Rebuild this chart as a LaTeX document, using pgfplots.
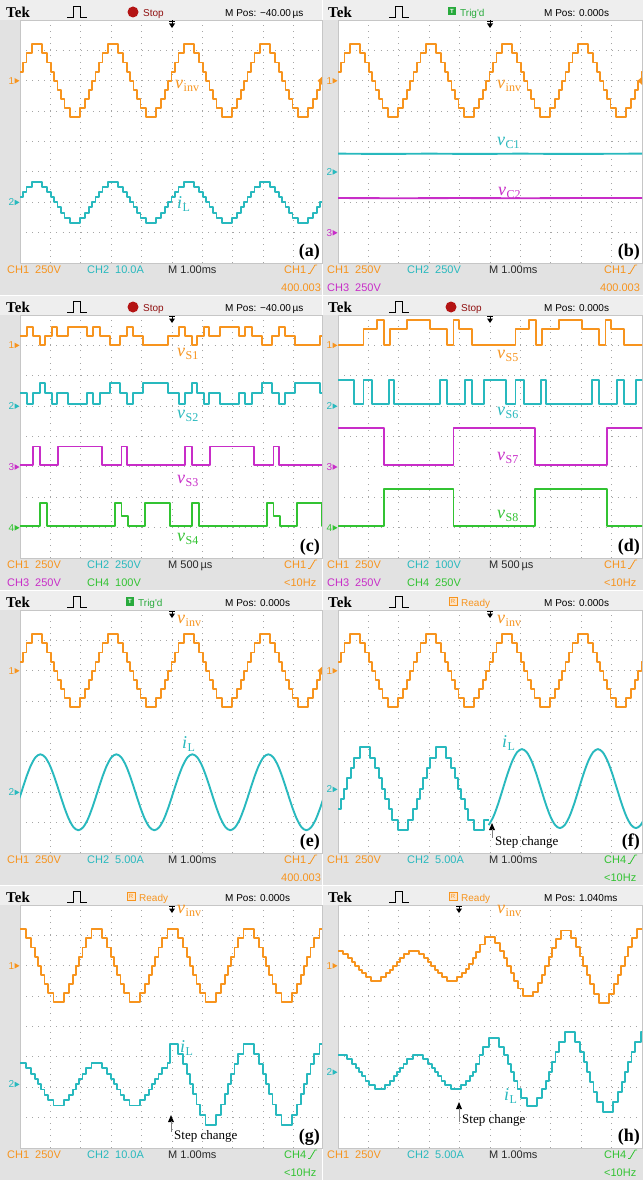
\documentclass[border=0pt]{standalone}
\usepackage{pgfplots}
\pgfplotsset{compat=1.18}
\usepackage{pgfplotstable}
\usepackage{fontspec}
\setmainfont{Liberation Serif}
\newfontfamily\sansf{Liberation Sans}
\definecolor{cho}{RGB}{247,148,30}
\definecolor{chc}{RGB}{40,185,190}
\definecolor{chm}{RGB}{200,45,200}
\definecolor{chg}{RGB}{50,195,50}
\definecolor{bgb}{RGB}{226,226,226}
\definecolor{bgt}{RGB}{238,238,238}
\definecolor{gridc}{RGB}{165,165,165}
\definecolor{txtc}{RGB}{40,40,40}
\definecolor{stopred}{RGB}{180,20,20}
\definecolor{trigg}{RGB}{40,170,60}
\newcommand{\btf}{\sansf\fontsize{11}{11}\selectfont}
\newcommand{\stf}{\sansf\fontsize{10}{10}\selectfont}

\pgfplotsset{
 osc/.style={scale only axis, width=304pt, height=243pt, xmin=0, xmax=10, ymin=-4, ymax=4,
  xtick={0,...,10}, ytick={-4,...,4}, xticklabels={}, yticklabels={}, major tick length=0pt,
  tick style={draw=none}, grid=major,
  major grid style={gridc, line width=0.8pt, dash pattern=on 0.8pt off 5.28pt},
  axis line style={gray!45, line width=0.6pt}, axis background/.style={fill=white},
  anchor=north west},
 oscL/.style={osc, width=302pt, xmax=9.934},
 tr/.style={line width=1.9pt, line join=round}}

% ---------- data (x in divisions, y in divisions) ----------
\pgfplotstableread{
t v i
-0.100 2.0 -2.00
-0.018 2.3 -1.83
0.090 2.6 -1.66
0.213 2.9 -1.49
0.388 3.2 -1.32
0.722 2.9 -1.49
0.897 2.6 -1.66
1.020 2.3 -1.83
1.128 2.0 -2.00
1.232 1.7 -2.17
1.340 1.4 -2.34
1.463 1.1 -2.51
1.638 0.8 -2.68
1.972 1.1 -2.51
2.147 1.4 -2.34
2.270 1.7 -2.17
2.378 2.0 -2.00
2.482 2.3 -1.83
2.590 2.6 -1.66
2.713 2.9 -1.49
2.888 3.2 -1.32
3.222 2.9 -1.49
3.397 2.6 -1.66
3.520 2.3 -1.83
3.628 2.0 -2.00
3.732 1.7 -2.17
3.840 1.4 -2.34
3.963 1.1 -2.51
4.138 0.8 -2.68
4.472 1.1 -2.51
4.647 1.4 -2.34
4.770 1.7 -2.17
4.878 2.0 -2.00
4.982 2.3 -1.83
5.090 2.6 -1.66
5.213 2.9 -1.49
5.388 3.2 -1.32
5.722 2.9 -1.49
5.897 2.6 -1.66
6.020 2.3 -1.83
6.128 2.0 -2.00
6.232 1.7 -2.17
6.340 1.4 -2.34
6.463 1.1 -2.51
6.638 0.8 -2.68
6.972 1.1 -2.51
7.147 1.4 -2.34
7.270 1.7 -2.17
7.378 2.0 -2.00
7.482 2.3 -1.83
7.590 2.6 -1.66
7.713 2.9 -1.49
7.888 3.2 -1.32
8.222 2.9 -1.49
8.397 2.6 -1.66
8.520 2.3 -1.83
8.628 2.0 -2.00
8.732 1.7 -2.17
8.840 1.4 -2.34
8.963 1.1 -2.51
9.138 0.8 -2.68
9.472 1.1 -2.51
9.647 1.4 -2.34
9.770 1.7 -2.17
9.878 2.0 -2.00
9.982 2.3 -1.83
10.090 2.6 -1.66
10.200 2.6 -1.66
}\tabA

\pgfplotstableread{
t y
-0.111 -2.478
0.045 -2.000
0.201 -1.522
0.358 -1.116
0.514 -0.845
0.670 -0.750
0.826 -0.845
0.983 -1.116
1.139 -1.522
1.295 -2.000
1.451 -2.478
1.608 -2.884
1.764 -3.155
1.920 -3.250
2.076 -3.155
2.233 -2.884
2.389 -2.478
2.545 -2.000
2.701 -1.522
2.858 -1.116
3.014 -0.845
3.170 -0.750
3.326 -0.845
3.483 -1.116
3.639 -1.522
3.795 -2.000
3.951 -2.478
4.108 -2.884
4.264 -3.155
4.420 -3.250
4.576 -3.155
4.733 -2.884
4.889 -2.478
5.045 -2.000
5.201 -1.522
5.358 -1.116
5.514 -0.845
5.670 -0.750
5.826 -0.845
5.983 -1.116
6.139 -1.522
6.295 -2.000
6.451 -2.478
6.608 -2.884
6.764 -3.155
6.920 -3.250
7.076 -3.155
7.233 -2.884
7.389 -2.478
7.545 -2.000
7.701 -1.522
7.858 -1.116
8.014 -0.845
8.170 -0.750
8.326 -0.845
8.483 -1.116
8.639 -1.522
8.795 -2.000
8.951 -2.478
9.108 -2.884
9.264 -3.155
9.420 -3.250
9.576 -3.155
9.733 -2.884
9.889 -2.478
10.045 -2.000
}\tabEsine

\pgfplotstableread{
t y
-0.300 -3.24
-0.203 -2.90
-0.028 -2.56
0.095 -2.22
0.203 -1.88
0.307 -1.54
0.415 -1.20
0.538 -0.86
0.713 -0.52
1.047 -0.86
1.222 -1.20
1.345 -1.54
1.453 -1.88
1.557 -2.22
1.665 -2.56
1.788 -2.90
1.963 -3.24
2.297 -2.90
2.472 -2.56
2.595 -2.22
2.703 -1.88
2.807 -1.54
2.915 -1.20
3.038 -0.86
3.213 -0.52
3.547 -0.86
3.722 -1.20
3.845 -1.54
3.953 -1.88
4.057 -2.22
4.165 -2.56
4.288 -2.90
4.463 -3.24
4.797 -2.90
4.956 -2.90
}\tabFstair

\pgfplotstableread{
t y
4.956 -3.081
5.113 -2.799
5.269 -2.378
5.425 -1.880
5.581 -1.382
5.738 -0.961
5.894 -0.679
6.050 -0.580
6.206 -0.679
6.363 -0.961
6.519 -1.382
6.675 -1.880
6.831 -2.378
6.988 -2.799
7.144 -3.081
7.300 -3.180
7.456 -3.081
7.613 -2.799
7.769 -2.378
7.925 -1.880
8.081 -1.382
8.238 -0.961
8.394 -0.679
8.550 -0.580
8.706 -0.679
8.863 -0.961
9.019 -1.382
9.175 -1.880
9.331 -2.378
9.488 -2.799
9.644 -3.081
9.800 -3.180
9.956 -3.081
10.113 -2.799
}\tabFsine

\pgfplotstableread{
t v i
-0.200 2.9 -1.375
-0.147 3.2 -1.200
0.187 2.9 -1.375
0.362 2.6 -1.550
0.485 2.3 -1.725
0.593 2.0 -1.900
0.697 1.7 -2.075
0.805 1.4 -2.250
0.928 1.1 -2.425
1.103 0.8 -2.600
1.437 1.1 -2.425
1.612 1.4 -2.250
1.735 1.7 -2.075
1.843 2.0 -1.900
1.947 2.3 -1.725
2.055 2.6 -1.550
2.178 2.9 -1.375
2.353 3.2 -1.200
2.687 2.9 -1.375
2.862 2.6 -1.550
2.985 2.3 -1.725
3.093 2.0 -1.900
3.197 1.7 -2.075
3.305 1.4 -2.250
3.428 1.1 -2.425
3.603 0.8 -2.600
3.937 1.1 -2.425
4.112 1.4 -2.250
4.235 1.7 -2.075
4.343 2.0 -1.900
4.447 2.3 -1.725
4.555 2.6 -1.550
4.678 2.9 -1.375
4.853 3.2 -1.200
4.930 3.2 -0.568
5.187 2.9 -0.901
5.362 2.6 -1.234
5.485 2.3 -1.567
5.593 2.0 -1.900
5.697 1.7 -2.233
5.805 1.4 -2.566
5.928 1.1 -2.899
6.103 0.8 -3.232
6.437 1.1 -2.899
6.612 1.4 -2.566
6.735 1.7 -2.233
6.843 2.0 -1.900
6.947 2.3 -1.567
7.055 2.6 -1.234
7.178 2.9 -0.901
7.353 3.2 -0.568
7.687 2.9 -0.901
7.862 2.6 -1.234
7.985 2.3 -1.567
8.093 2.0 -1.900
8.197 1.7 -2.233
8.305 1.4 -2.566
8.428 1.1 -2.899
8.603 0.8 -3.232
8.937 1.1 -2.899
9.112 1.4 -2.566
9.235 1.7 -2.233
9.343 2.0 -1.900
9.447 2.3 -1.567
9.555 2.6 -1.234
9.678 2.9 -0.901
9.853 3.2 -0.568
10.100 3.2 -0.568
}\tabG

\pgfplotstableread{
t i
-0.200 -1.08
-0.047 -0.94
0.287 -1.08
0.462 -1.22
0.585 -1.36
0.693 -1.50
0.797 -1.64
0.905 -1.78
1.028 -1.92
1.203 -2.06
1.537 -1.92
1.712 -1.78
1.835 -1.64
1.943 -1.50
2.047 -1.36
2.155 -1.22
2.278 -1.08
2.453 -0.94
2.787 -1.08
2.962 -1.22
3.085 -1.36
3.193 -1.50
3.297 -1.64
3.405 -1.78
3.528 -1.92
3.703 -2.06
4.037 -1.92
4.212 -1.78
4.335 -1.64
4.443 -1.50
4.547 -1.22
4.655 -0.94
4.778 -0.66
4.953 -0.38
5.287 -0.66
5.462 -0.94
5.585 -1.22
5.693 -1.50
5.797 -1.78
5.905 -2.06
6.028 -2.34
6.203 -2.62
6.537 -2.34
6.712 -2.06
6.835 -1.78
6.943 -1.50
7.047 -1.17
7.155 -0.84
7.278 -0.51
7.453 -0.18
7.787 -0.51
7.962 -0.84
8.085 -1.17
8.193 -1.50
8.297 -1.83
8.405 -2.16
8.528 -2.49
8.703 -2.82
9.037 -2.49
9.212 -2.16
9.335 -1.83
9.443 -1.50
9.547 -1.17
9.655 -0.84
9.778 -0.51
9.953 -0.18
10.100 -0.18
}\tabHi

\pgfplotstableread{
t v
-0.400 2.250
-0.342 2.375
-0.167 2.500
0.167 2.375
0.342 2.250
0.465 2.125
0.573 2.000
0.677 1.875
0.785 1.750
0.908 1.625
1.083 1.500
1.417 1.625
1.592 1.750
1.715 1.875
1.823 2.000
1.927 2.125
2.035 2.250
2.158 2.375
2.333 2.500
2.667 2.375
2.842 2.250
2.965 2.125
3.073 2.000
3.177 1.875
3.285 1.750
3.408 1.625
3.583 1.500
3.917 1.620
4.092 1.750
4.215 1.900
4.323 2.050
4.427 2.250
4.535 2.450
4.658 2.700
4.833 2.950
5.167 2.750
5.342 2.500
5.465 2.250
5.573 2.000
5.677 1.750
5.785 1.500
5.908 1.250
6.083 1.000
6.417 1.130
6.592 1.420
6.715 1.710
6.823 2.000
6.927 2.290
7.035 2.580
7.158 2.870
7.333 3.160
7.667 2.915
7.842 2.610
7.965 2.305
8.073 2.000
8.177 1.695
8.285 1.390
8.408 1.085
8.583 0.780
8.917 1.085
9.092 1.390
9.215 1.695
9.323 2.000
9.427 2.305
9.535 2.610
9.658 2.915
9.833 3.220
10.167 2.915
}\tabHv

% ---------- decoration helpers (pixel units, y downward) ----------
\newcommand{\toptek}{%
 \node[anchor=base west,inner sep=0pt,font=\bfseries\fontsize{15}{15}\selectfont] at (6,17.5) {Tek};
 \draw[line width=0.6pt] (67,17)--(73,17)--(73,6.5)--(80,6.5)--(80,17)--(87,17);}
\newcommand{\stopicon}[1]{\fill[stopred] (#1,12) circle (5.5);
 \node[anchor=base west,inner sep=0pt,text=stopred!80!black,font=\stf] at (#1+10,16.5) {Stop};}
\newcommand{\trigicon}[1]{\fill[trigg] (#1,7) rectangle (#1+8,15.5);
 \node[inner sep=0pt,text=white,font=\sansf\bfseries\fontsize{6}{6}\selectfont] at (#1+4,11.3) {T};
 \node[anchor=base west,inner sep=0pt,text=trigg,font=\stf] at (#1+12,16.5) {Trig'd};}
\newcommand{\readyicon}[1]{\draw[cho,fill=cho!25,line width=0.6pt] (#1,7) rectangle (#1+8,15.5);
 \node[inner sep=0pt,text=cho,font=\sansf\fontsize{6}{6}\selectfont] at (#1+4,11.3) {R};
 \node[anchor=base west,inner sep=0pt,text=cho,font=\stf] at (#1+12,16.5) {Ready};}
\newcommand{\mpos}[2]{\node[anchor=base west,inner sep=0pt,font=\stf] at (#1,16.5) {M Pos: #2};}
\newcommand{\trigarrow}[1]{\draw[line width=0.7pt] (#1-3,21.5)--(#1+3,21.5) (#1,20.5)--(#1,24);
 \fill (#1-3,23.5)--(#1+3,23.5)--(#1,28)--cycle;}
\newcommand{\chmark}[4]{\node[anchor=base east,inner sep=0pt,text=#3,font=\sansf\fontsize{10}{10}\selectfont] at (#1-5.5,#2+3.5) {#4};
 \fill[#3] (#1-5.5,#2-2.8)--(#1-0.5,#2)--(#1-5.5,#2+2.8)--cycle;}
\newcommand{\rmark}[2]{\fill[cho] (#1,#2-4)--(#1-4.5,#2)--(#1,#2+4)--cycle;}
\newcommand{\vlab}[5]{\node[anchor=base west,inner sep=0pt,text=#3] at (#1,#2)
 {\fontsize{18}{18}\selectfont\textit{#4}\kern0.5pt\raisebox{-3pt}{\fontsize{12}{12}\selectfont #5}};}
\newcommand{\plet}[2]{\node[anchor=base east,inner sep=0pt,font=\bfseries\fontsize{18}{18}\selectfont] at (#1,256) {(#2)};}
\newcommand{\bt}[4]{\node[anchor=base west,inner sep=0pt,text=#3,font=\btf] at (#1,#2) {#4};}
\newcommand{\edgeic}[2]{\draw[#2,line width=0.8pt] (#1,273.5)--(#1+2,273.5)--(#1+7,265)--(#1+9,265);}
\newcommand{\stepch}[4]{\fill (#1-3,#2+7)--(#1,#2)--(#1+3,#2+7)--cycle;
 \draw[gray,line width=0.6pt] (#1,#2+6)--(#1,#3);
 \node[anchor=base west,inner sep=0pt,font=\fontsize{13}{13}\selectfont] at (#1+3,#4) {Step change};}
\newcommand{\gp}{\hspace{6pt}}

\begin{document}
\begin{tikzpicture}
\useasboundingbox (0,0) rectangle (643pt,-1180pt);
\begin{scope}[x=1pt,y=-1pt]
\fill[bgb] (0,0) rectangle (643,1180);
\foreach \r in {0,295,590,885} {\fill[bgt] (0,\r) rectangle (643,\r+20);}
\draw[white,line width=1pt] (322,0)--(322,1180);
\foreach \r in {295,590,885} {\draw[white,line width=1pt] (0,\r)--(643,\r);}
\end{scope}

% ---- (a)
\begin{axis}[oscL, at={(20pt,-20pt)}]
\addplot[const plot, cho, tr] table[x=t,y=v] {\tabA};
\addplot[const plot, chc, tr] table[x=t,y=i] {\tabA};
\end{axis}
% ---- (b)
\begin{axis}[osc, at={(338pt,-20pt)}]
\addplot[const plot, cho, tr] table[x=t,y=v] {\tabA};
\addplot[chc, tr] coordinates {(0,-0.40) (1.5,-0.41) (3,-0.40) (4.5,-0.41) (6,-0.40) (7.5,-0.41) (10,-0.40)};
\addplot[chm, tr] coordinates {(0,-1.86) (2,-1.87) (4,-1.86) (6,-1.87) (8,-1.86) (10,-1.86)};
\end{axis}
% ---- (c)
\begin{axis}[oscL, at={(20pt,-315pt)}]
\addplot[const plot, cho, tr] coordinates {(-0.1,3.3) (0.22,3.6) (0.44,3.3) (0.66,3.0) (0.82,3.3) (1.04,3.6) (1.23,3.3) (1.59,3.6) (2.19,3.3) (2.41,3.6) (2.63,3.3) (2.96,3.0) (3.29,3.3) (3.51,3.6) (3.73,3.3) (4.06,3.0) (4.88,3.3) (5.22,3.6) (5.44,3.3) (5.66,3.0) (5.82,3.3) (6.04,3.6) (6.23,3.3) (6.59,3.6) (7.19,3.3) (7.41,3.6) (7.63,3.3) (7.96,3.0) (8.29,3.3) (8.51,3.6) (8.73,3.3) (9.06,3.0) (9.88,3.3) (10.1,3.3)};
\addplot[const plot, chc, tr] coordinates {(-0.1,1.42) (0.22,1.08) (0.44,1.42) (0.66,1.75) (0.82,1.42) (1.04,1.08) (1.23,1.42) (1.59,1.08) (2.19,1.42) (2.41,1.08) (2.63,1.42) (2.96,1.75) (3.29,1.42) (3.51,1.08) (3.73,1.42) (4.06,1.75) (4.88,1.42) (5.22,1.08) (5.44,1.42) (5.66,1.75) (5.82,1.42) (6.04,1.08) (6.23,1.42) (6.59,1.08) (7.19,1.42) (7.41,1.08) (7.63,1.42) (7.96,1.75) (8.29,1.42) (8.51,1.08) (8.73,1.42) (9.06,1.75) (9.88,1.42) (10.1,1.42)};
\addplot[const plot, chm, tr] coordinates {(-0.1,-0.95) (0.44,-0.33) (0.66,-0.95) (1.26,-0.33) (2.69,-0.95) (3.34,-0.33) (3.51,-0.95) (5.44,-0.33) (5.66,-0.95) (6.26,-0.33) (7.69,-0.95) (8.34,-0.33) (8.51,-0.95) (10.1,-0.95)};
\addplot[const plot, chg, tr] coordinates {(-0.1,-2.95) (0.66,-2.2) (0.88,-2.95) (3.125,-2.2) (3.34,-2.62) (3.56,-2.95) (4.1,-2.2) (4.93,-2.95) (5.66,-2.2) (5.88,-2.95) (8.125,-2.2) (8.34,-2.62) (8.56,-2.95) (9.1,-2.2) (9.93,-2.95) (10.1,-2.95)};
\end{axis}
% ---- (d)
\begin{axis}[osc, at={(338pt,-315pt)}]
\addplot[const plot, cho, tr] coordinates {(-0.1,3.0) (0.84,3.53) (1.28,3.84) (1.5,3.0) (1.72,3.53) (2.27,3.84) (3.04,3.53) (3.59,3.0) (3.8,3.84) (3.97,3.53) (4.41,3.0) (5.84,3.53) (6.28,3.84) (6.5,3.0) (6.72,3.53) (7.27,3.84) (8.04,3.53) (8.59,3.0) (8.8,3.84) (8.97,3.53) (9.41,3.0) (10.1,3.0)};
\addplot[const plot, chc, tr] coordinates {(-0.1,1.86) (0.52,1.07) (0.84,1.86) (1.12,1.07) (1.67,1.86) (1.83,1.07) (3.36,1.86) (3.58,1.07) (4.19,1.86) (4.41,1.07) (4.8,1.86) (5.52,1.07) (5.84,1.86) (6.12,1.07) (6.67,1.86) (6.83,1.07) (8.36,1.86) (8.58,1.07) (9.19,1.86) (9.41,1.07) (9.8,1.86) (10.1,1.86)};
\addplot[const plot, chm, tr] coordinates {(-0.1,0.27) (1.5,-0.93) (3.8,0.27) (6.49,-0.93) (8.85,0.27) (10.1,0.27)};
\addplot[const plot, chg, tr] coordinates {(-0.1,-2.94) (1.5,-1.73) (3.8,-2.94) (6.49,-1.73) (8.85,-2.94) (10.1,-2.94)};
\end{axis}
% ---- (e)
\begin{axis}[oscL, at={(20pt,-610pt)}]
\addplot[const plot, cho, tr] table[x=t,y=v] {\tabA};
\addplot[smooth, chc, tr] table[x=t,y=y] {\tabEsine};
\end{axis}
% ---- (f)
\begin{axis}[osc, at={(338pt,-610pt)}]
\addplot[const plot, cho, tr] table[x=t,y=v] {\tabA};
\addplot[const plot, chc, tr] table[x=t,y=y] {\tabFstair};
\addplot[smooth, chc, tr] table[x=t,y=y] {\tabFsine};
\end{axis}
% ---- (g)
\begin{axis}[oscL, at={(20pt,-905pt)}]
\addplot[const plot, cho, tr] table[x=t,y=v] {\tabG};
\addplot[const plot, chc, tr] table[x=t,y=i] {\tabG};
\end{axis}
% ---- (h)
\begin{axis}[osc, at={(338pt,-905pt)}]
\addplot[const plot, cho, tr] table[x=t,y=v] {\tabHv};
\addplot[const plot, chc, tr] table[x=t,y=i] {\tabHi};
\end{axis}

\begin{scope}[x=1pt,y=-1pt]
% (a)
\begin{scope}
\clip (0,0) rectangle (322,295);
\toptek \stopicon{133} \mpos{225}{−40.00\,µs} \trigarrow{172}
\chmark{20}{80.8}{cho}{1} \chmark{20}{202.4}{chc}{2} \rmark{322}{80.8}
\vlab{175}{89}{cho}{v}{inv} \vlab{177}{208}{chc}{i}{L}
\plet{320}{a}
\bt{7}{273.5}{cho}{CH1\gp 250V} \bt{87}{273.5}{chc}{CH2\gp 10.0A} \bt{168}{273.5}{txtc}{M 1.00ms}
\bt{284}{273.5}{cho}{CH1} \edgeic{308}{cho} \bt{281}{291.5}{cho}{400.003}
\end{scope}
% (b)
\begin{scope}[shift={(322,0)}]
\clip (0,0) rectangle (321,295);
\toptek \trigicon{126} \mpos{222}{0.000s} \trigarrow{168}
\chmark{16}{80.8}{cho}{1} \chmark{16}{172}{chc}{2} \chmark{16}{232.8}{chm}{3} \rmark{320}{80.8}
\vlab{175}{89}{cho}{v}{inv} \vlab{175}{146}{chc}{v}{C1} \vlab{176}{195}{chm}{v}{C2}
\plet{318}{b}
\bt{5}{273.5}{cho}{CH1\gp 250V} \bt{85}{273.5}{chc}{CH2\gp 250V} \bt{167}{273.5}{txtc}{M 1.00ms}
\bt{282}{273.5}{cho}{CH1} \edgeic{306}{cho}
\bt{5}{291.5}{chm}{CH3\gp 250V} \bt{278}{291.5}{cho}{400.003}
\end{scope}
% (c)
\begin{scope}[shift={(0,295)}]
\clip (0,0) rectangle (322,295);
\toptek \stopicon{133} \mpos{225}{−40.00\,µs} \trigarrow{172}
\chmark{20}{50.4}{cho}{1} \chmark{20}{111.2}{chc}{2} \chmark{20}{172}{chm}{3} \chmark{20}{232.8}{chg}{4}
\vlab{177}{61.7}{cho}{v}{S1} \vlab{177}{123.3}{chc}{v}{S2} \vlab{177}{188.3}{chm}{v}{S3} \vlab{177}{246.7}{chg}{v}{S4}
\plet{320}{c}
\bt{7}{273.5}{cho}{CH1\gp 250V} \bt{87}{273.5}{chc}{CH2\gp 250V} \bt{168}{273.5}{txtc}{M 500\,µs}
\bt{284}{273.5}{cho}{CH1} \edgeic{308}{cho}
\bt{7}{291.5}{chm}{CH3\gp 250V} \bt{87}{291.5}{chg}{CH4\gp 100V} \bt{284}{291.5}{cho}{<10Hz}
\end{scope}
% (d)
\begin{scope}[shift={(322,295)}]
\clip (0,0) rectangle (321,295);
\toptek \stopicon{129} \mpos{222}{0.000s} \trigarrow{168}
\chmark{16}{50.4}{cho}{1} \chmark{16}{111.2}{chc}{2} \chmark{16}{172}{chm}{3} \chmark{16}{232.8}{chg}{4}
\vlab{175}{63.3}{cho}{v}{S5} \vlab{175}{120}{chc}{v}{S6} \vlab{175}{165}{chm}{v}{S7} \vlab{175}{223.3}{chg}{v}{S8}
\plet{318}{d}
\bt{5}{273.5}{cho}{CH1\gp 250V} \bt{85}{273.5}{chc}{CH2\gp 100V} \bt{167}{273.5}{txtc}{M 500\,µs}
\bt{282}{273.5}{cho}{CH1} \edgeic{306}{cho}
\bt{5}{291.5}{chm}{CH3\gp 250V} \bt{85}{291.5}{chg}{CH4\gp 250V} \bt{282}{291.5}{cho}{<10Hz}
\end{scope}
% (e)
\begin{scope}[shift={(0,590)}]
\clip (0,0) rectangle (322,295);
\toptek \trigicon{126} \mpos{225}{0.000s} \trigarrow{172}
\chmark{20}{80.8}{cho}{1} \chmark{20}{202.4}{chc}{2} \rmark{322}{80.8}
\vlab{177}{33}{cho}{v}{inv} \vlab{182}{158}{chc}{i}{L}
\plet{320}{e}
\bt{7}{273.5}{cho}{CH1\gp 250V} \bt{87}{273.5}{chc}{CH2\gp 5.00A} \bt{168}{273.5}{txtc}{M 1.00ms}
\bt{284}{273.5}{cho}{CH1} \edgeic{308}{cho} \bt{281}{291.5}{cho}{400.003}
\end{scope}
% (f)
\begin{scope}[shift={(322,590)}]
\clip (0,0) rectangle (321,295);
\toptek \readyicon{127} \mpos{222}{0.000s} \trigarrow{168}
\chmark{16}{80.8}{cho}{1} \chmark{16}{199.4}{chc}{2}
\vlab{175}{33}{cho}{v}{inv} \vlab{180}{157}{chc}{i}{L}
\stepch{170}{233}{248}{255}
\plet{318}{f}
\bt{5}{273.5}{cho}{CH1\gp 250V} \bt{85}{273.5}{chc}{CH2\gp 5.00A} \bt{167}{273.5}{txtc}{M 1.00ms}
\bt{282}{273.5}{chg}{CH4} \edgeic{306}{chg} \bt{282}{291.5}{chg}{<10Hz}
\end{scope}
% (g)
\begin{scope}[shift={(0,885)}]
\clip (0,0) rectangle (322,295);
\toptek \readyicon{127} \mpos{225}{0.000s} \trigarrow{172}
\chmark{20}{80.8}{cho}{1} \chmark{20}{199.4}{chc}{2}
\vlab{177}{28}{cho}{v}{inv} \vlab{180}{167}{chc}{i}{L}
\stepch{171}{230}{247}{254}
\plet{320}{g}
\bt{7}{273.5}{cho}{CH1\gp 250V} \bt{87}{273.5}{chc}{CH2\gp 10.0A} \bt{168}{273.5}{txtc}{M 1.00ms}
\bt{284}{273.5}{chg}{CH4} \edgeic{308}{chg} \bt{284}{291.5}{chg}{<10Hz}
\end{scope}
% (h)
\begin{scope}[shift={(322,885)}]
\clip (0,0) rectangle (321,295);
\toptek \readyicon{127} \mpos{222}{1.040ms} \trigarrow{137}
\chmark{16}{80.8}{cho}{1} \chmark{16}{187.2}{chc}{2}
\vlab{175}{28}{cho}{v}{inv} \vlab{182}{215}{chc}{i}{L}
\stepch{137}{217}{237}{238}
\plet{318}{h}
\bt{5}{273.5}{cho}{CH1\gp 250V} \bt{85}{273.5}{chc}{CH2\gp 5.00A} \bt{167}{273.5}{txtc}{M 1.00ms}
\bt{282}{273.5}{chg}{CH4} \edgeic{306}{chg} \bt{282}{291.5}{chg}{<10Hz}
\end{scope}
\end{scope}
\end{tikzpicture}
\end{document}
